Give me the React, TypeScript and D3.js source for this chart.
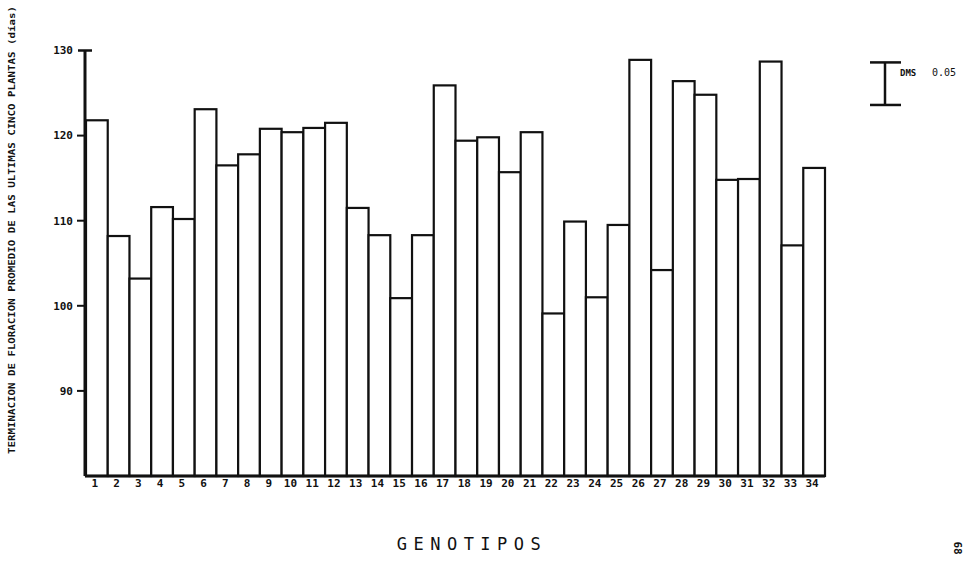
import React from 'react';
import * as d3 from 'd3';

// genotipos 1..34 y dias promedio
const genotipos = d3.range(1, 35).map(String);
const dias = [
  121.8, 108.2, 103.2, 111.6, 110.2, 123.1, 116.5, 117.8, 120.8, 120.4,
  120.9, 121.5, 111.5, 108.3, 100.9, 108.3, 125.9, 119.4, 119.8, 115.7,
  120.4, 99.1, 109.9, 101.0, 109.5, 128.9, 104.2, 126.4, 124.8, 114.8,
  114.9, 128.7, 107.1, 116.2,
];
const yTicks = [90, 100, 110, 120, 130];
const dmsTop = 128.6;
const dmsValue = 5;

const W = 969;
const H = 575;
const font = '"DejaVu Sans Mono", monospace';

const App = () => {
  const x = d3.scaleBand<string>().domain(genotipos).range([86, 825]).padding(0);
  const y = d3.scaleLinear().domain([80, 130]).range([476, 50.5]);
  const axisX = 85;

  return (
    <svg width={W} height={H} style={{ position: 'absolute', left: 0, top: 0, background: '#fff' }}>
      {/* barras */}
      {dias.map((d, i) => (
        <rect
          key={i}
          x={x(genotipos[i])}
          y={y(d)}
          width={x.bandwidth()}
          height={y(80) - y(d)}
          fill="#fff"
          stroke="#111"
          strokeWidth={2.2}
        />
      ))}

      {/* eje y */}
      <line x1={axisX} x2={axisX} y1={y(130)} y2={y(80)} stroke="#111" strokeWidth={3} />
      <line x1={axisX - 7} x2={axisX + 7} y1={y(130)} y2={y(130)} stroke="#111" strokeWidth={2.5} />
      <line x1={axisX} x2={x('34')! + x.bandwidth()} y1={y(80)} y2={y(80)} stroke="#111" strokeWidth={3} />
      {yTicks.map(t => (
        <g key={t}>
          {t !== 130 && <line x1={axisX - 8} x2={axisX} y1={y(t)} y2={y(t)} stroke="#111" strokeWidth={2} />}
          <text x={axisX - 12} y={y(t)} dy="0.35em" textAnchor="end" fontFamily={font} fontSize={11} fontWeight="bold" fill="#111">
            {t}
          </text>
        </g>
      ))}

      {/* etiquetas x */}
      {genotipos.map(g => (
        <text key={g} x={x(g)! + x.bandwidth() / 2 - 2} y={487} textAnchor="middle" fontFamily={font} fontSize={11} fontWeight="bold" fill="#111">
          {g}
        </text>
      ))}

      {/* titulo eje y */}
      <text
        transform={`translate(15, 230) rotate(-90)`}
        textAnchor="middle"
        fontFamily={font}
        fontSize={9.5}
        fontWeight="bold"
        fill="#111"
        textLength={448}
        lengthAdjust="spacingAndGlyphs"
      >
        TERMINACION DE FLORACION PROMEDIO DE LAS ULTIMAS CINCO PLANTAS (días)
      </text>

      {/* DMS */}
      <line x1={885} x2={885} y1={y(dmsTop)} y2={y(dmsTop - dmsValue)} stroke="#111" strokeWidth={2.5} />
      <line x1={870} x2={901} y1={y(dmsTop)} y2={y(dmsTop)} stroke="#111" strokeWidth={2.5} />
      <line x1={870} x2={901} y1={y(dmsTop - dmsValue)} y2={y(dmsTop - dmsValue)} stroke="#111" strokeWidth={2.5} />
      <text x={900} y={76} fontFamily={font} fontSize={9} fontWeight="bold" fill="#111">DMS</text>
      <text x={932} y={76} fontFamily={font} fontSize={10} fill="#111">0.05</text>

      {/* titulo eje x */}
      <text x={472} y={550} textAnchor="middle" fontFamily={font} fontSize={17} fill="#111" letterSpacing={6.5}>
        GENOTIPOS
      </text>

      {/* numero de pagina */}
      <text transform="translate(954, 548) rotate(90)" textAnchor="middle" fontFamily={font} fontSize={11} fontWeight="bold" fill="#111">
        68
      </text>
    </svg>
  );
};

export default App;
